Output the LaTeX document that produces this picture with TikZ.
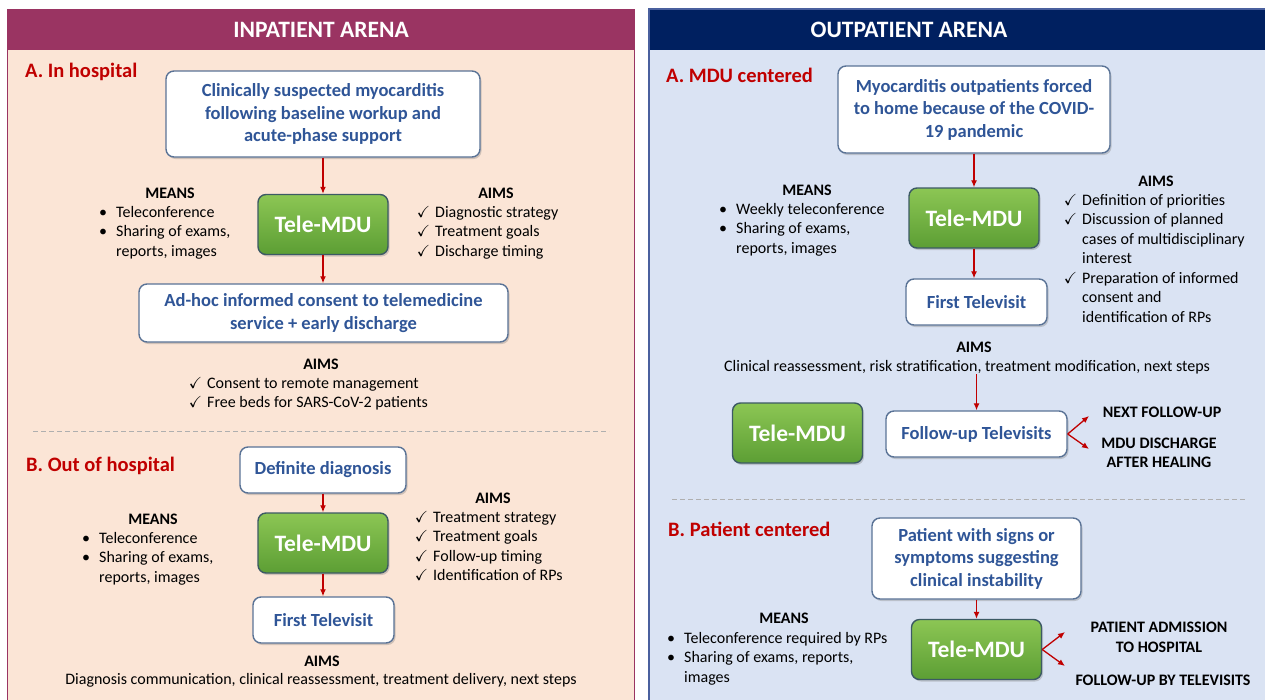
\documentclass[tikz,border=0pt]{standalone}
\usepackage{fontspec}
\setmainfont{Carlito}
\usepackage{amssymb}
\usepackage{tikz}
\usetikzlibrary{arrows.meta,shadows}

\definecolor{inhead}{RGB}{154,52,98}
\definecolor{inbody}{RGB}{251,229,214}
\definecolor{outhead}{RGB}{0,32,96}
\definecolor{outbody}{RGB}{218,227,243}
\definecolor{outedge}{RGB}{74,96,158}
\definecolor{secred}{RGB}{192,0,0}
\definecolor{boxblue}{RGB}{47,85,151}
\definecolor{boxedge}{RGB}{90,115,150}
\definecolor{mdutop}{RGB}{140,198,84}
\definecolor{mdubot}{RGB}{92,158,52}
\definecolor{mduedge}{RGB}{60,90,100}
\definecolor{dashgray}{RGB}{175,175,175}

\newcommand{\bl}{\llap{\textbullet\hspace{9pt}}}
\newcommand{\ck}{\llap{$\checkmark$\hspace{5pt}}}

\begin{document}
\begin{tikzpicture}[x=1pt, y=-1pt,
    panelhead/.style={text=white, font=\fontsize{23.5}{28}\selectfont\bfseries},
    section/.style={anchor=west, inner sep=0pt, text=secred, font=\fontsize{20.5}{24}\selectfont\bfseries},
    infobox/.style={draw=boxedge, line width=1.4pt, fill=white, rounded corners=8pt, align=center, inner sep=0pt,
        text=boxblue, font=\fontsize{18.5}{22.5}\selectfont\bfseries,
        drop shadow={shadow xshift=1.5pt, shadow yshift=-2pt, opacity=0.35}},
    mdubox/.style={draw=mduedge, line width=1.4pt, top color=mdutop, bottom color=mdubot, rounded corners=8pt,
        minimum width=130pt, minimum height=60pt, text=white, font=\fontsize{23.5}{28}\selectfont\bfseries,
        drop shadow={shadow xshift=1.5pt, shadow yshift=-2pt, opacity=0.35}},
    heading/.style={font=\fontsize{16}{19.5}\selectfont\bfseries},
    outcome/.style={align=center, font=\fontsize{16}{19.5}\selectfont\bfseries},
    body/.style={inner sep=0pt, font=\fontsize{16}{19.5}\selectfont},
    link/.style={draw=secred, line width=1.3pt, -{Latex[length=7pt,width=6pt]}},
    divider/.style={draw=dashgray, line width=0.8pt, dash pattern=on 5pt off 3pt}]

    \useasboundingbox (0,0) rectangle (1265,699);
    \clip (0,0) rectangle (1265,699);

    % panels
    \fill[inbody] (7,50) rectangle (634,720);
    \fill[inhead] (7,9) rectangle (634,50);
    \draw[inhead, line width=1pt] (7,9) rectangle (634,720);
    \fill[outbody] (649,50) rectangle (1280,720);
    \fill[outhead] (649,9) rectangle (1280,50);
    \draw[outedge, line width=1.5pt] (649,9) rectangle (1280,720);
    \node[panelhead] (inarena) at (321,30) {INPATIENT ARENA};
    \node[panelhead] (outarena) at (909,30) {OUTPATIENT ARENA};

    % inpatient, A
    \node[section] (secA) at (25,72) {A. In hospital};
    \node[infobox, minimum width=314pt, minimum height=86pt] (suspect) at (323,114)
        {Clinically suspected myocarditis\\following baseline workup and\\acute-phase support};
    \node[mdubox] (mduA) at (323,224.5) {Tele-MDU};
    \node[infobox, minimum width=369pt, minimum height=58pt] (consent) at (323.5,313)
        {Ad-hoc informed consent to telemedicine\\service + early discharge};
    \node[heading] (meansA) at (170,193) {MEANS};
    \node[body, anchor=base west] (meansAlist) at (116,217)
        {\begin{tabular}[t]{@{}l@{}}\bl Teleconference\\ \bl Sharing of exams,\\ reports, images\end{tabular}};
    \node[heading] (aimsA) at (496,193) {AIMS};
    \node[body, anchor=base west] (aimsAlist) at (435,217)
        {\begin{tabular}[t]{@{}l@{}}\ck Diagnostic strategy\\ \ck Treatment goals\\ \ck Discharge timing\end{tabular}};
    \node[heading] (aimsC) at (321,364) {AIMS};
    \node[body, anchor=base west] (aimsClist) at (207,388)
        {\begin{tabular}[t]{@{}l@{}}\ck Consent to remote management\\ \ck Free beds for SARS-CoV-2 patients\end{tabular}};

    \draw[divider] (33,431) -- (609,431);

    % inpatient, B
    \node[section] (secB) at (26,466) {B. Out of hospital};
    \node[infobox, minimum width=166pt, minimum height=46pt] (diagnosis) at (323,470) {Definite diagnosis};
    \node[mdubox] (mduB) at (323,543) {Tele-MDU};
    \node[infobox, minimum width=141pt, minimum height=46pt] (firstB) at (323.5,620) {First Televisit};
    \node[heading] (meansB) at (153,519) {MEANS};
    \node[body, anchor=base west] (meansBlist) at (99,543)
        {\begin{tabular}[t]{@{}l@{}}\bl Teleconference\\ \bl Sharing of exams,\\ reports, images\end{tabular}};
    \node[heading] (aimsB) at (493,498) {AIMS};
    \node[body, anchor=base west] (aimsBlist) at (433,522)
        {\begin{tabular}[t]{@{}l@{}}\ck Treatment strategy\\ \ck Treatment goals\\ \ck Follow-up timing\\ \ck Identification of RPs\end{tabular}};
    \node[heading] (aimsD) at (322,661) {AIMS};
    \node[body] (aimsDtext) at (321,680) {Diagnosis communication, clinical reassessment, treatment delivery, next steps};

    % outpatient, A
    \node[section] (secC) at (666,75) {A. MDU centered};
    \node[infobox, minimum width=272pt, minimum height=87pt] (forced) at (974,109.5)
        {Myocarditis outpatients forced\\to home because of the COVID-\\19 pandemic};
    \node[mdubox] (mduC) at (974,218) {Tele-MDU};
    \node[infobox, minimum width=141pt, minimum height=46pt] (firstC) at (976.5,302) {First Televisit};
    \node[heading] (meansC) at (807,190) {MEANS};
    \node[body, anchor=base west] (meansClist) at (736,214)
        {\begin{tabular}[t]{@{}l@{}}\bl Weekly teleconference\\ \bl Sharing of exams,\\ reports, images\end{tabular}};
    \node[heading] (aimsE) at (1156,181) {AIMS};
    \node[body, anchor=base west] (aimsElist) at (1082,205)
        {\begin{tabular}[t]{@{}l@{}}\ck Definition of priorities\\ \ck Discussion of planned\\ cases of multidisciplinary\\ interest\\
        \ck Preparation of informed\\ consent and\\ identification of RPs\end{tabular}};
    \node[heading] (aimsF) at (974,347) {AIMS};
    \node[body] (reassess) at (967,367) {Clinical reassessment, risk stratification, treatment modification, next steps};
    \node[mdubox] (mduD) at (797.5,433) {Tele-MDU};
    \node[infobox, minimum width=181pt, minimum height=46pt] (followup) at (976.5,434) {Follow-up Televisits};
    \node[outcome] (nextfu) at (1162,412) {NEXT FOLLOW-UP};
    \node[outcome] (discharge) at (1159,453) {MDU DISCHARGE\\AFTER HEALING};
    \coordinate (nextend) at (1089,416);
    \coordinate (dischend) at (1089,449);

    \draw[divider] (672,499) -- (1246,499);

    % outpatient, B
    \node[section] (secD) at (668,529) {B. Patient centered};
    \node[infobox, minimum width=209pt, minimum height=81pt] (unstable) at (976.5,558.5)
        {Patient with signs or\\symptoms suggesting\\clinical instability};
    \node[mdubox] (mduE) at (976.5,649.5) {Tele-MDU};
    \node[heading] (meansE) at (784,618) {MEANS};
    \node[body, anchor=base west] (meansElist) at (684,643)
        {\begin{tabular}[t]{@{}l@{}}\bl Teleconference required by RPs\\ \bl Sharing of exams, reports,\\ images\end{tabular}};
    \node[outcome] (admission) at (1159,637.5) {PATIENT ADMISSION\\TO HOSPITAL};
    \node[outcome] (televisits) at (1163,680) {FOLLOW-UP BY TELEVISITS};
    \coordinate (admend) at (1065,632);
    \coordinate (teleend) at (1065,666);

    % edges
    \draw[link] (suspect) -- (mduA); % suspected -> Tele-MDU
    \draw[link] (mduA.south) -- (mduA.south |- consent.north); % Tele-MDU -> consent
    \draw[link] (diagnosis) -- (mduB); % diagnosis -> Tele-MDU
    \draw[link] (mduB.south) -- (mduB.south |- firstB.north); % Tele-MDU -> first televisit
    \draw[link] (forced) -- (mduC); % outpatients -> Tele-MDU
    \draw[link] (mduC.south) -- (mduC.south |- firstC.north); % Tele-MDU -> first televisit
    \draw[link] (reassess.south -| followup.north) -- (followup.north); % aims -> follow-up
    \draw[link] (followup.east) -- (nextend); % follow-up -> next
    \draw[link] (followup.east) -- (dischend); % follow-up -> discharge
    \draw[link] (unstable.south -| mduE.north) -- (mduE.north); % patient -> Tele-MDU
    \draw[link] (mduE.east) -- (admend); % Tele-MDU -> admission
    \draw[link] (mduE.east) -- (teleend); % Tele-MDU -> televisits

\end{tikzpicture}
\end{document}
